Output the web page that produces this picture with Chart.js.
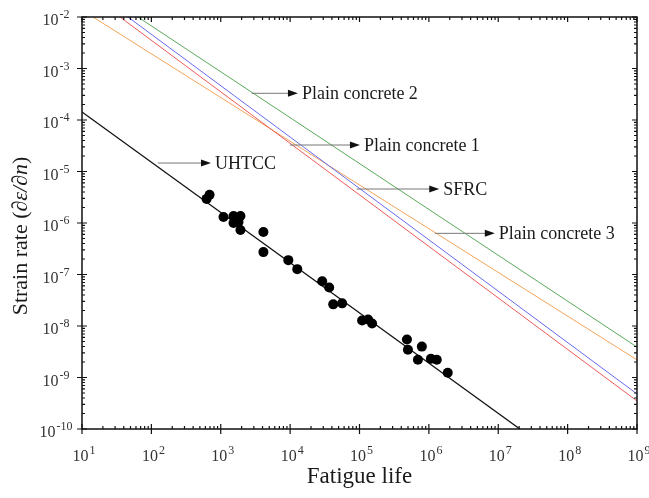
<!DOCTYPE html>
<html>
<head>
<meta charset="utf-8">
<title>Strain rate vs fatigue life</title>
<script src="https://cdn.jsdelivr.net/npm/chart.js@4.4.1/dist/chart.umd.min.js"></script>
<style>
  html, body { margin: 0; padding: 0; background: #fff; }
  #chart-wrap { width: 649px; height: 498px; }
</style>
</head>
<body>
<div id="chart-wrap"><canvas id="fatigue-chart" width="649" height="498"></canvas></div>
<script>
// --- data ---

// UHTCC test points (fatigue life, strain rate)
const uhtccLife = [625, 690, 1096, 1528, 1742, 1923, 1528, 1803, 1923, 4120, 4120, 9420, 12680,
  29000, 36550, 41800, 56200, 109000, 133000, 152000, 483000, 499000, 792000, 695000,
  1070000, 1300000, 1870000];
const uhtccRate = [2.94e-6, 3.52e-6, 1.31e-6, 1.37e-6, 1.25e-6, 1.37e-6, 1.0e-6, 1.05e-6, 7.3e-7,
  6.7e-7, 2.72e-7, 1.9e-7, 1.27e-7, 7.4e-8, 5.6e-8, 2.63e-8, 2.75e-8, 1.28e-8, 1.34e-8, 1.12e-8,
  5.46e-9, 3.47e-9, 3.98e-9, 2.22e-9, 2.32e-9, 2.22e-9, 1.24e-9];

// fitted straight lines (start / end)
const uhtccFitLife = [10, 2.05e7];
const uhtccFitRate = [1.43e-4, 1e-10];
const pc1Life = [35.3, 1e9];
const pc1Rate = [1e-2, 3.5e-10];
const sfrcLife = [46, 1e9];
const sfrcRate = [1e-2, 4.8e-10];
const pc2Life = [64, 1e9];
const pc2Rate = [1e-2, 3.9e-9];
const pc3Life = [14.4, 1e9];
const pc3Rate = [1e-2, 2.2e-9];

// arrow labels: arrow starts on a line and points right to the text
const noteLabels = ['UHTCC', 'Plain concrete 2', 'Plain concrete 1', 'SFRC', 'Plain concrete 3'];
const noteFromLife = [124, 2786, 9930, 90800, 1.22e6];
const noteToLife = [723, 12950, 101400, 1.41e6, 8.93e6];
const noteRate = [1.46e-5, 3.3e-4, 3.27e-5, 4.57e-6, 6.3e-7];

// axis decades (tick labels are 10^n)
const xTickExps = [1, 2, 3, 4, 5, 6, 7, 8, 9];
const yTickExps = [-10, -9, -8, -7, -6, -5, -4, -3, -2];

const SERIF = '"Liberation Serif", "Times New Roman", serif';

function toPoints(xs, ys) {
  return xs.map((v, i) => ({ x: v, y: ys[i] }));
}

function lineSet(label, xs, ys, color, width) {
  return {
    label: label,
    data: toPoints(xs, ys),
    showLine: true,
    borderColor: color,
    borderWidth: width,
    pointRadius: 0,
    fill: false
  };
}

// draws "10" with a raised exponent, centered on cx
function drawPower(ctx, exp, cx, baseline) {
  const baseFont = '16px ' + SERIF;
  const expFont = '12px ' + SERIF;
  ctx.font = baseFont;
  const w1 = ctx.measureText('10').width;
  ctx.font = expFont;
  const w2 = ctx.measureText(String(exp)).width;
  const start = cx - (w1 + 1 + w2) / 2;
  ctx.textAlign = 'left';
  ctx.textBaseline = 'alphabetic';
  ctx.font = baseFont;
  ctx.fillText('10', start, baseline);
  ctx.font = expFont;
  ctx.fillText(String(exp), start + w1 + 1, baseline - 7);
}

// frame, inward/outward ticks, labels and arrow notes
const frameAndLabels = {
  id: 'frameAndLabels',
  afterDatasetsDraw(chart) {
    const { ctx, chartArea: a, scales: { x, y } } = chart;
    ctx.save();

    // arrow notes
    noteLabels.forEach((text, i) => {
      const x0 = x.getPixelForValue(noteFromLife[i]);
      const x1 = x.getPixelForValue(noteToLife[i]);
      const yy = y.getPixelForValue(noteRate[i]);
      ctx.strokeStyle = '#777';
      ctx.lineWidth = 1;
      ctx.beginPath();
      ctx.moveTo(x0, yy);
      ctx.lineTo(x1 - 8, yy);
      ctx.stroke();
      ctx.fillStyle = '#111';
      ctx.beginPath();
      ctx.moveTo(x1, yy);
      ctx.lineTo(x1 - 10, yy - 3.5);
      ctx.lineTo(x1 - 10, yy + 3.5);
      ctx.closePath();
      ctx.fill();
      ctx.font = '18px ' + SERIF;
      ctx.textAlign = 'left';
      ctx.textBaseline = 'alphabetic';
      ctx.fillStyle = '#1a1a1a';
      ctx.fillText(text, x1 + 4, yy + 6);
    });

    // frame
    ctx.strokeStyle = '#111';
    ctx.lineWidth = 1.5;
    ctx.strokeRect(a.left, a.top, a.right - a.left, a.bottom - a.top);

    ctx.lineWidth = 1.2;
    ctx.beginPath();
    // x ticks
    xTickExps.forEach((e, i) => {
      const px = x.getPixelForValue(Math.pow(10, e));
      ctx.moveTo(px, a.bottom + 5); ctx.lineTo(px, a.bottom - 5);
      ctx.moveTo(px, a.top); ctx.lineTo(px, a.top + 5);
      if (i < xTickExps.length - 1) {
        for (let m = 2; m <= 9; m++) {
          const mx = x.getPixelForValue(m * Math.pow(10, e));
          ctx.moveTo(mx, a.bottom); ctx.lineTo(mx, a.bottom - 3);
          ctx.moveTo(mx, a.top); ctx.lineTo(mx, a.top + 3);
        }
      }
    });
    // y ticks
    yTickExps.forEach((e, i) => {
      const py = y.getPixelForValue(Math.pow(10, e));
      ctx.moveTo(a.left - 5, py); ctx.lineTo(a.left + 5, py);
      ctx.moveTo(a.right, py); ctx.lineTo(a.right - 5, py);
      if (i < yTickExps.length - 1) {
        for (let m = 2; m <= 9; m++) {
          const my = y.getPixelForValue(m * Math.pow(10, e));
          ctx.moveTo(a.left, my); ctx.lineTo(a.left + 3, my);
          ctx.moveTo(a.right, my); ctx.lineTo(a.right - 3, my);
        }
      }
    });
    ctx.stroke();

    // tick labels
    ctx.fillStyle = '#333';
    xTickExps.forEach(e => {
      drawPower(ctx, e, x.getPixelForValue(Math.pow(10, e)) + 2, a.bottom + 32);
    });
    yTickExps.forEach(e => {
      drawPower(ctx, e, 56, y.getPixelForValue(Math.pow(10, e)) + 8);
    });

    // x title
    ctx.fillStyle = '#1a1a1a';
    ctx.font = '23px ' + SERIF;
    ctx.textAlign = 'center';
    ctx.fillText('Fatigue life', (a.left + a.right) / 2, 483);

    // y title with italic part
    const partA = 'Strain rate (';
    const partB = '\u2202\u03b5/\u2202n';
    const partC = ')';
    const regFont = '22px ' + SERIF;
    const itFont = 'italic 22px ' + SERIF;
    ctx.font = regFont;
    const wa = ctx.measureText(partA).width;
    const wc = ctx.measureText(partC).width;
    ctx.font = itFont;
    const wb = ctx.measureText(partB).width;
    ctx.translate(27, 236);
    ctx.rotate(-Math.PI / 2);
    ctx.textAlign = 'left';
    let sx = -(wa + wb + wc) / 2;
    ctx.font = regFont;
    ctx.fillText(partA, sx, 0);
    sx += wa;
    ctx.font = itFont;
    ctx.fillText(partB, sx, 0);
    sx += wb;
    ctx.font = regFont;
    ctx.fillText(partC, sx, 0);

    ctx.restore();
  }
};

const ctx = document.getElementById('fatigue-chart').getContext('2d');
new Chart(ctx, {
  type: 'scatter',
  data: {
    datasets: [
      {
        label: 'UHTCC',
        data: toPoints(uhtccLife, uhtccRate),
        backgroundColor: '#000',
        borderColor: '#000',
        pointRadius: 5,
        pointBorderWidth: 0
      },
      lineSet('UHTCC fit', uhtccFitLife, uhtccFitRate, '#111', 1.3),
      lineSet('Plain concrete 1', pc1Life, pc1Rate, '#ee5a5a', 1),
      lineSet('SFRC', sfrcLife, sfrcRate, '#6a6af0', 1),
      lineSet('Plain concrete 3', pc3Life, pc3Rate, '#f4a45a', 1),
      lineSet('Plain concrete 2', pc2Life, pc2Rate, '#5aaa5a', 1)
    ]
  },
  options: {
    responsive: false,
    animation: false,
    devicePixelRatio: 1,
    layout: { padding: { left: 82, right: 12, top: 17, bottom: 69 } },
    scales: {
      x: { type: 'logarithmic', min: 10, max: 1e9, display: false },
      y: { type: 'logarithmic', min: 1e-10, max: 1e-2, display: false }
    },
    plugins: {
      legend: { display: false },
      tooltip: { enabled: false }
    }
  },
  plugins: [frameAndLabels]
});
</script>
</body>
</html>
